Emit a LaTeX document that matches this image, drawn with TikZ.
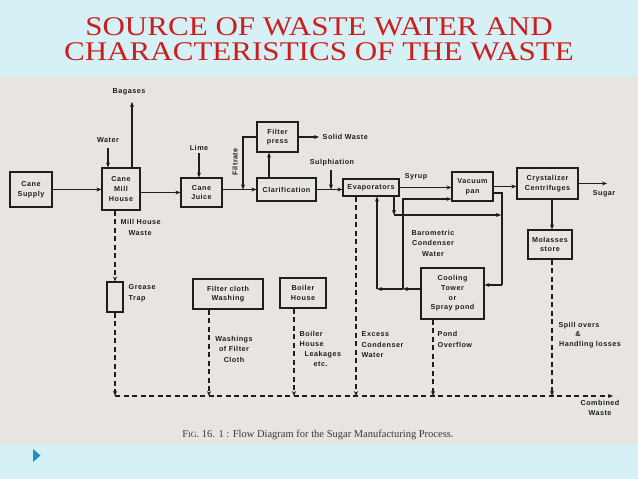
\documentclass[tikz,border=0pt]{standalone}
\usepackage{fontspec}
\setmainfont{Liberation Serif}
\newfontfamily\scanfont[LetterSpace=7]{Liberation Sans}
\usetikzlibrary{arrows.meta}
\definecolor{bgcyan}{HTML}{D6F1F6}
\definecolor{scanbg}{HTML}{E8E5E0}
\definecolor{ink}{HTML}{1E1E1E}
\definecolor{titlered}{HTML}{CC1E1E}
\definecolor{bullet}{HTML}{1E8FC8}
\definecolor{captink}{HTML}{3A3A3A}
\begin{document}
\begin{tikzpicture}[x=1pt,y=-1pt,
  box/.style={draw=ink,line width=1.1pt,inner sep=0pt,align=center,text=ink,
    font=\scanfont\bfseries\fontsize{7.2}{9.6}\selectfont},
  lbl/.style={text=ink,align=center,inner sep=0.5pt,
    font=\scanfont\bfseries\fontsize{7.2}{10.5}\selectfont},
  flow/.style={draw=ink,line width=1.1pt},
  arr/.style={flow,-{Stealth[length=5pt,width=4pt]}},
  wastearr/.style={flow,line width=1.3pt,dash pattern=on 5pt off 3.5pt,-{Stealth[length=5pt,width=4pt]}},
  titletxt/.style={text=titlered,anchor=base,inner sep=0pt,font=\fontsize{27}{30}\selectfont}]
\fill[bgcyan] (0,0) rectangle (638,479);
\fill[scanbg] (0,77) rectangle (638,444);
\useasboundingbox (0,0) rectangle (638,479);
% title
\node[titletxt] (t1) at (319,35) {\scalebox{1.15}[1]{SOURCE OF WASTE WATER AND}};
\node[titletxt] (t2) at (319,60) {\scalebox{1.15}[1]{CHARACTERISTICS OF THE WASTE}};
% bullet
\fill[bullet] (33,449) -- (40.5,455.5) -- (33,462) -- cycle;
% boxes
\node[box,minimum width=42pt,minimum height=35pt] (supply) at (31,189.5) {Cane\\Supply};
\node[box,minimum width=38pt,minimum height=42pt] (mill) at (121,189) {Cane\\Mill\\House};
\node[box,minimum width=41pt,minimum height=29pt] (juice) at (201.5,192.5) {Cane\\Juice};
\node[box,minimum width=41pt,minimum height=30pt] (press) at (277.5,137) {Filter\\press};
\node[box,minimum width=59pt,minimum height=23pt] (clar) at (286.5,189.5) {Clarification};
\node[box,minimum width=56pt,minimum height=17pt] (evap) at (371,187.5) {Evaporators};
\node[box,minimum width=41pt,minimum height=29pt] (pan) at (472.5,186.5) {Vacuum\\pan};
\node[box,minimum width=61pt,minimum height=31pt] (cryst) at (547.5,183.5) {Crystalizer\\Centrifuges};
\node[box,minimum width=44pt,minimum height=29pt] (mol) at (550,244.5) {Molasses\\store};
\node[box,minimum width=63pt,minimum height=51pt] (tower) at (452.5,293.5) {Cooling\\Tower\\or\\Spray pond};
\node[box,minimum width=16pt,minimum height=30pt] (grease) at (115,297) {};
\node[box,minimum width=70pt,minimum height=30pt] (cloth) at (228,294) {Filter cloth\\Washing};
\node[box,minimum width=46pt,minimum height=30pt] (boiler) at (303,293) {Boiler\\House};
% labels
\node[lbl] (bag) at (129,92) {Bagases};
\node[lbl] (water) at (108,140) {Water};
\node[lbl] (lime) at (199,148) {Lime};
\node[lbl,rotate=90] (filtrate) at (235,162) {Filtrate};
\node[lbl,anchor=west] (solid) at (322,137) {Solid Waste};
\node[lbl] (sulph) at (332,163) {Sulphiation};
\node[lbl] (syrup) at (416,177) {Syrup};
\node[lbl] (sugar) at (604,194) {Sugar};
\node[lbl] (baro) at (433,243) {Barometric\\Condenser\\Water};
\node[lbl,align=left,anchor=north west] (millw) at (120,219) {Mill House\\\hspace{8pt}Waste};
\node[lbl,align=left,anchor=west] (trap) at (128,293) {Grease\\Trap};
\node[lbl] (wash) at (234,349) {Washings\\of Filter\\Cloth};
\node[lbl,align=left,anchor=north west,font=\scanfont\bfseries\fontsize{7.2}{10}\selectfont] (leak) at (299,331) {Boiler\\House\\\hspace{5pt}Leakages\\\hspace{14pt}etc.};
\node[lbl,align=left,anchor=north west] (excess) at (361,331) {Excess\\Condenser\\Water};
\node[lbl,align=left,anchor=north west] (pond) at (437,331) {Pond\\Overflow};
\node[lbl] (spill) at (590,335) {\hspace{-22pt}Spill overs\\[-1pt]\hspace{-24pt}\&\\[-1pt]Handling losses};
\node[lbl] (comb) at (600,408) {Combined\\Waste};
\node[text=captink,inner sep=0pt,anchor=base,font=\fontsize{10.5}{12}\selectfont] (cap) at (318,437)
  {F{\fontsize{8}{10}\selectfont IG}. 16. 1 : Flow Diagram for the Sugar Manufacturing Process.};
% coordinates
\coordinate (bagtop) at (132,102);
\coordinate (wtop) at (108,148);
\coordinate (ltop) at (199,153);
\coordinate (filt) at (243,189.5);
\coordinate (cp) at (269,0);
\coordinate (stop) at (331,170);
\coordinate (sugend) at (607,183.5);
\coordinate (jA) at (403,289);
\coordinate (jB) at (377,289);
\coordinate (jC) at (403,199);
\coordinate (jD) at (394,215);
\coordinate (jE) at (501,215);
\coordinate (jF) at (502,193);
\coordinate (jG) at (502,285);
\coordinate (cwL) at (115,396);
\coordinate (cwR) at (613,396);
\coordinate (d1) at (209,396);
\coordinate (d2) at (294,396);
\coordinate (d3) at (356,396);
\coordinate (d4) at (433,396);
\coordinate (d5) at (552,396);
% main flow
\draw[arr] (supply.east) -- (supply.east -| mill.west);
\draw[arr] (mill.east |- juice.west) -- (juice.west);
\draw[arr] (mill.north -| bagtop) -- (bagtop);
\draw[arr] (wtop) -- (wtop |- mill.north);
\draw[arr] (ltop) -- (ltop |- juice.north);
\draw[arr] (juice.east |- clar.west) -- (clar.west);
\draw[arr] (press.west) -| (filt);
\draw[arr] (clar.north -| cp) -- (press.south -| cp);
\draw[arr] (press.east) -- ([xshift=-3pt]solid.west);
\draw[arr] (clar.east) -- (clar.east -| evap.west);
\draw[arr] (stop) -- (stop |- clar.east);
\draw[arr] (evap.east) -- (evap.east -| pan.west);
\draw[arr] (pan.east) -- (pan.east -| cryst.west);
\draw[arr] (cryst.east) -- (sugend);
\draw[arr] (cryst.south -| d5) -- (mol.north -| d5);
% condenser water loop
\draw[arr] (tower.west |- jA) -- (jA);
\draw[arr] (jA) -- (jB);
\draw[arr] (jB) -- (jB |- evap.south);
\draw[arr] (jA) -- (jC) -- (jC -| pan.west);
\draw[arr] (evap.south -| jD) -- (jD);
\draw[arr] (jD) -- (jE);
\draw[flow] (pan.east |- jF) -- (jF) -- (jG);
\draw[arr] (jG) -- (jG -| tower.east);
% waste streams
\draw[wastearr] (mill.south -| grease.north) -- (grease.north);
\draw[wastearr] (grease.south) -- (cwL);
\draw[wastearr] (cwL) -- (cwR);
\draw[wastearr] (cloth.south -| d1) -- (d1);
\draw[wastearr] (boiler.south -| d2) -- (d2);
\draw[wastearr] (evap.south -| d3) -- (d3);
\draw[wastearr] (tower.south -| d4) -- (d4);
\draw[wastearr] (mol.south -| d5) -- (d5);
\end{tikzpicture}
\end{document}
